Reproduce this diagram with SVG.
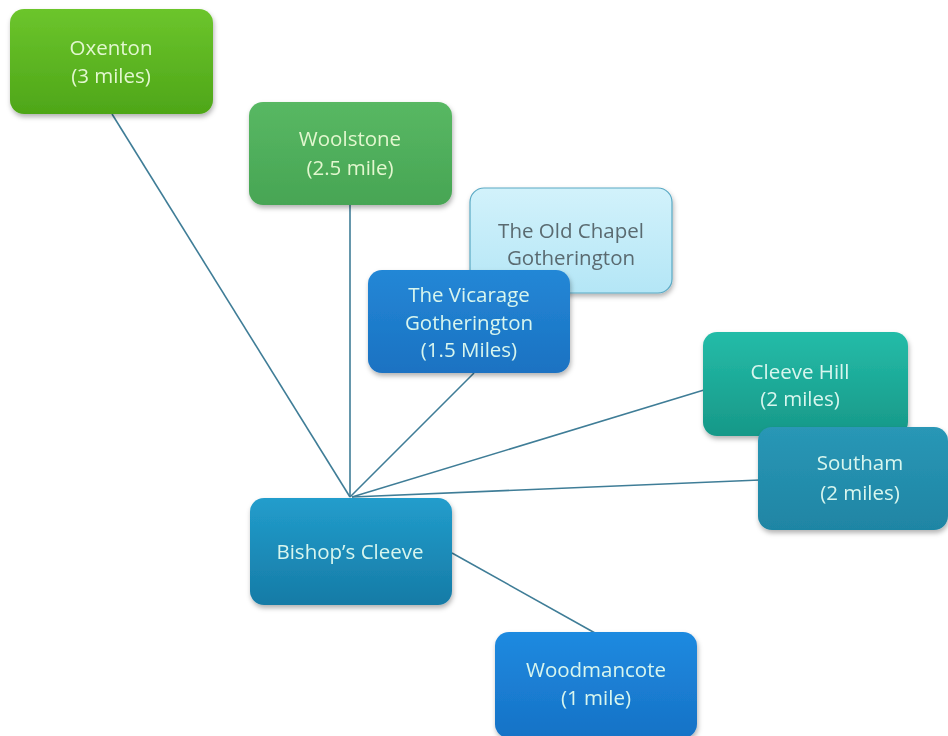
<svg xmlns="http://www.w3.org/2000/svg" width="948" height="736" viewBox="0 0 948 736">
<defs>
<filter id="sh" x="-10%" y="-10%" width="125%" height="130%">
<feDropShadow dx="1" dy="3" stdDeviation="2.5" flood-color="#000" flood-opacity="0.3"/>
</filter>
<linearGradient id="gOx" x1="0" y1="0" x2="0" y2="1"><stop offset="0" stop-color="#6cc52c"/><stop offset="1" stop-color="#4ea618"/></linearGradient>
<linearGradient id="gWo" x1="0" y1="0" x2="0" y2="1"><stop offset="0" stop-color="#58b863"/><stop offset="1" stop-color="#47a554"/></linearGradient>
<linearGradient id="gOc" x1="0" y1="0" x2="0" y2="1"><stop offset="0" stop-color="#d2f2fb"/><stop offset="1" stop-color="#b4e6f6"/></linearGradient>
<linearGradient id="gVi" x1="0" y1="0" x2="0" y2="1"><stop offset="0" stop-color="#2487d6"/><stop offset="1" stop-color="#1a72c2"/></linearGradient>
<linearGradient id="gCh" x1="0" y1="0" x2="0" y2="1"><stop offset="0" stop-color="#24bca8"/><stop offset="1" stop-color="#179888"/></linearGradient>
<linearGradient id="gSo" x1="0" y1="0" x2="0" y2="1"><stop offset="0" stop-color="#2997b6"/><stop offset="1" stop-color="#1f85a4"/></linearGradient>
<linearGradient id="gBc" x1="0" y1="0" x2="0" y2="1"><stop offset="0" stop-color="#229dcc"/><stop offset="1" stop-color="#167ba6"/></linearGradient>
<linearGradient id="gWm" x1="0" y1="0" x2="0" y2="1"><stop offset="0" stop-color="#1f8ae0"/><stop offset="1" stop-color="#1672c6"/></linearGradient>
</defs>
<style>
.n{filter:url(#sh)}
.t{font-family:"Open Sans","Liberation Sans",sans-serif;font-size:20.5px;text-anchor:middle;fill:#d8f6ee}
.g{fill:#e2f7cf}
.d{fill:#5a6a70}
.c line{stroke:#3f7d97;stroke-width:1.6;fill:none}
</style>
<g class="c" id="connectors">
<line x1="112" y1="114" x2="350" y2="497"/>
<line x1="350" y1="205" x2="350" y2="497"/>
<line x1="474" y1="373" x2="350" y2="497"/>
<line x1="704" y1="390" x2="352" y2="497"/>
<line x1="760" y1="480" x2="352" y2="497"/>
<line x1="452" y1="553" x2="595" y2="633"/>
</g>
<g id="oxenton" class="n">
<rect x="10" y="9" width="203" height="105" rx="14" fill="url(#gOx)"/>
<text class="t g" x="111" y="55">Oxenton</text>
<text class="t g" x="111" y="83">(3 miles)</text>
</g>
<g id="woolstone" class="n">
<rect x="249" y="102" width="203" height="103" rx="14" fill="url(#gWo)"/>
<text class="t g" x="350" y="146">Woolstone</text>
<text class="t g" x="350" y="175">(2.5 mile)</text>
</g>
<g id="oldchapel" class="n">
<rect x="470" y="188" width="202" height="105" rx="14" fill="url(#gOc)" stroke="#5aa9c4" stroke-width="1.2"/>
<text class="t d" x="571" y="238">The Old Chapel</text>
<text class="t d" x="571" y="265">Gotherington</text>
</g>
<g id="vicarage" class="n">
<rect x="368" y="270" width="202" height="103" rx="14" fill="url(#gVi)"/>
<text class="t" x="469" y="302">The Vicarage</text>
<text class="t" x="469" y="330">Gotherington</text>
<text class="t" x="469" y="357">(1.5 Miles)</text>
</g>
<g id="cleevehill" class="n">
<rect x="703" y="332" width="205" height="104" rx="14" fill="url(#gCh)"/>
<text class="t" x="800" y="379">Cleeve Hill</text>
<text class="t" x="800" y="406">(2 miles)</text>
</g>
<g id="southam" class="n">
<rect x="758" y="427" width="190" height="103" rx="14" fill="url(#gSo)"/>
<text class="t" x="860" y="470">Southam</text>
<text class="t" x="860" y="500">(2 miles)</text>
</g>
<g id="bishopscleeve" class="n">
<rect x="250" y="498" width="202" height="107" rx="14" fill="url(#gBc)"/>
<text class="t" x="350" y="559">Bishop’s Cleeve</text>
</g>
<g id="woodmancote" class="n">
<rect x="495" y="632" width="202" height="106" rx="14" fill="url(#gWm)"/>
<text class="t" x="596" y="677">Woodmancote</text>
<text class="t" x="596" y="705">(1 mile)</text>
</g>
</svg>
